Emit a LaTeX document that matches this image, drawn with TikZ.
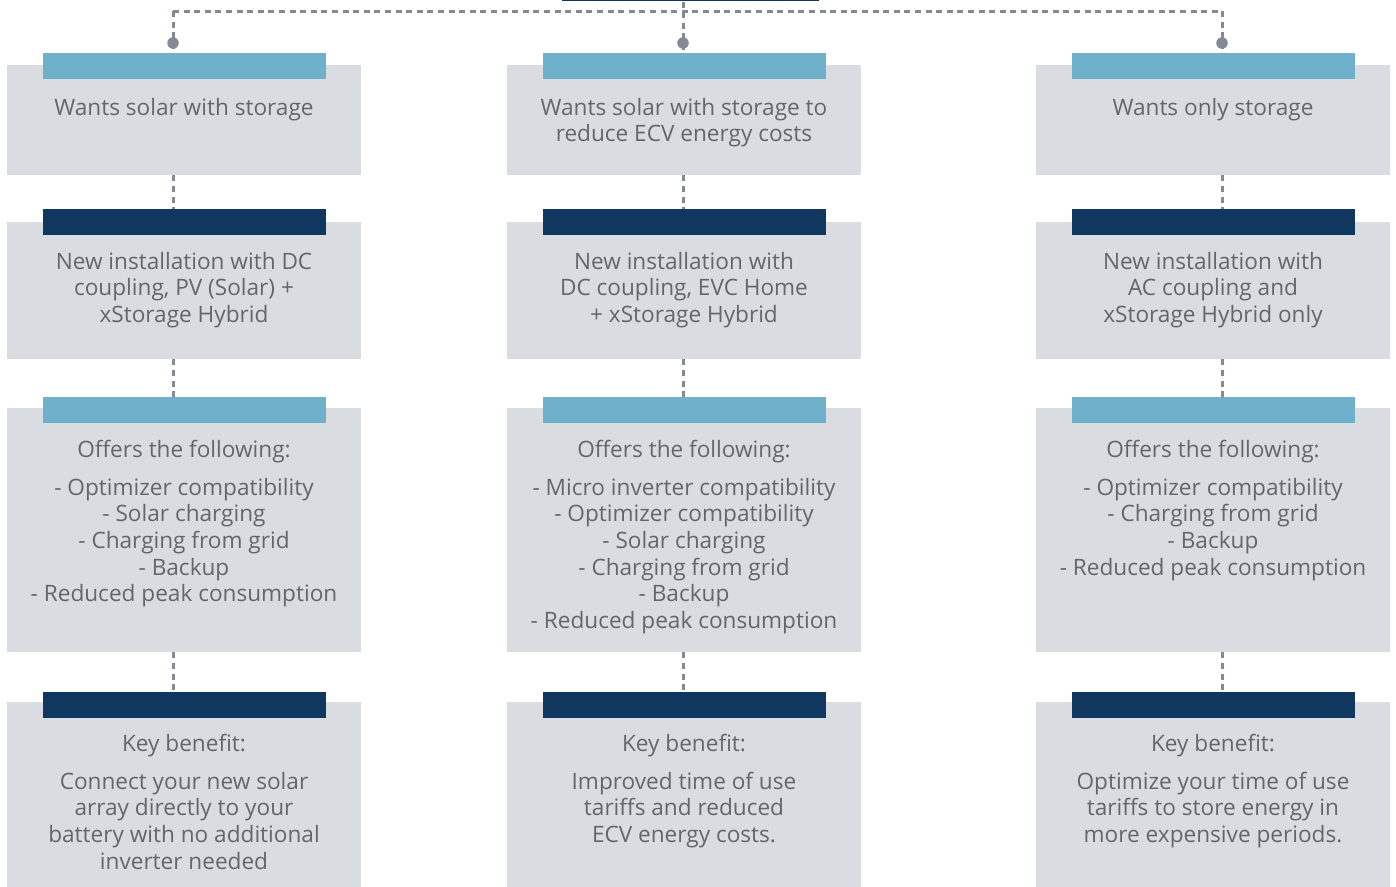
\documentclass[tikz,border=0pt]{standalone}
\usepackage{fontspec}
\setmainfont{Open Sans}
\usetikzlibrary{positioning}
\definecolor{panelgrey}{HTML}{D9DCE1}
\definecolor{sky}{HTML}{6FB1CA}
\definecolor{navy}{HTML}{10375F}
\definecolor{ink}{HTML}{63666B}
\definecolor{wire}{HTML}{858993}
\tikzset{
  panel/.style    = {fill=panelgrey, minimum width=354pt, inner sep=0pt, anchor=north},
  tab/.style      = {minimum width=283pt, minimum height=25.5pt, inner sep=0pt, anchor=north},
  lighttab/.style = {tab, fill=sky},
  darktab/.style  = {tab, fill=navy},
  txt/.style      = {text=ink, align=center, inner sep=0pt, anchor=north,
                     font=\fontsize{22.6}{26.7}\selectfont},
  link/.style     = {draw=wire, line width=3pt, dash pattern=on 6pt off 4.6pt},
  joint/.style    = {circle, fill=wire, inner sep=0pt, minimum size=11.5pt},
}

\begin{document}
\begin{tikzpicture}[x=1pt,y=-1pt]
  \useasboundingbox (0,0) rectangle (1396,886);
  % panels and tabs, row by row
  \foreach \c/\x in {1/184,2/684,3/1213}
    \foreach \r/\top/\h/\tabtop/\kind in {1/65/110/53/lighttab, 2/222/137/209/darktab,
                                          3/408/244/397/lighttab, 4/702/190/692/darktab}
    {
      \node[panel, minimum height=\h pt] (p\c\r) at (\x,\top) {};
      \node[\kind] (t\c\r) at (\x,\tabtop) {};
    }
  % cut-off box above
  \node[fill=navy, minimum width=257pt, minimum height=20pt, inner sep=0pt, anchor=south]
    (head) at (690.5,1.5) {};
  % texts
  \node[txt, yshift=-19pt] (a1) at (t11.south) {Wants solar with storage};
  \node[txt, yshift=-19pt] (a2) at (t21.south) {Wants solar with storage to\\reduce ECV energy costs};
  \node[txt, yshift=-19pt] (a3) at (t31.south) {Wants only storage};
  \node[txt, yshift=-17pt] (b1) at (t12.south) {New installation with DC\\coupling, PV (Solar) +\\xStorage Hybrid};
  \node[txt, yshift=-17pt] (b2) at (t22.south) {New installation with\\DC coupling, EVC Home\\+ xStorage Hybrid};
  \node[txt, yshift=-17pt] (b3) at (t32.south) {New installation with\\AC coupling and\\xStorage Hybrid only};
  \node[txt, yshift=-17pt] (c1) at (t13.south) {Offers the following:\\[11pt]
    - Optimizer compatibility\\- Solar charging\\- Charging from grid\\- Backup\\- Reduced peak consumption};
  \node[txt, yshift=-17pt] (c2) at (t23.south) {Offers the following:\\[11pt]
    - Micro inverter compatibility\\- Optimizer compatibility\\- Solar charging\\- Charging from grid\\- Backup\\- Reduced peak consumption};
  \node[txt, yshift=-17pt] (c3) at (t33.south) {Offers the following:\\[11pt]
    - Optimizer compatibility\\- Charging from grid\\- Backup\\- Reduced peak consumption};
  \node[txt, yshift=-16pt] (d1) at (t14.south) {Key benefit:\\[11pt]
    Connect your new solar\\array directly to your\\battery with no additional\\inverter needed};
  \node[txt, yshift=-16pt] (d2) at (t24.south) {Key benefit:\\[11pt]
    Improved time of use\\tariffs and reduced\\ECV energy costs.};
  \node[txt, yshift=-16pt] (d3) at (t34.south) {Key benefit:\\[11pt]
    Optimize your time of use\\tariffs to store energy in\\more expensive periods.};
  % connectors
  \coordinate (w1) at (173,11);
  \coordinate (w2) at (683,11);
  \coordinate (w3) at (1222,11);
  \draw[link] (w1) -- (w3);
  \draw[link] (head.south -| w2) -- (t21.north -| w2);
  \foreach \c in {1,3}
    \draw[link] (w\c) -- (t\c1.north -| w\c);
  \foreach \c in {1,2,3}
  {
    \node[joint] (j\c) at (w\c |- 0,43) {};
    \foreach \r/\n in {1/2,2/3,3/4}
      \draw[link] (p\c\r.south -| w\c) -- (t\c\n.north -| w\c);
  }
\end{tikzpicture}
\end{document}
